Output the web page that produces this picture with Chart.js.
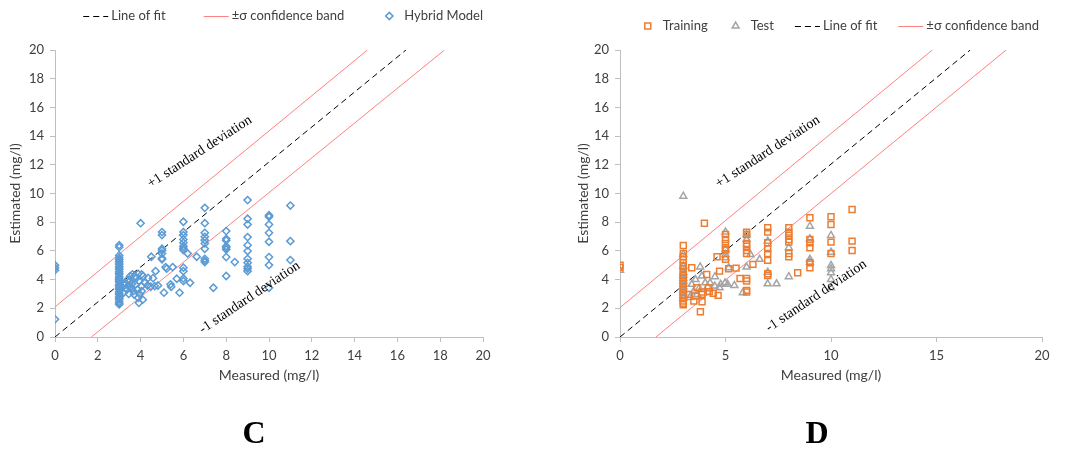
<!DOCTYPE html>
<html>
<head>
<meta charset="utf-8">
<title>Measured vs Estimated</title>
<script src="https://cdn.jsdelivr.net/npm/chart.js@4.4.0/dist/chart.umd.min.js"></script>
<style>
    html, body { margin: 0; padding: 0; background: #fff; }
    body { width: 1067px; height: 452px; position: relative; overflow: hidden; }
    .panel { position: absolute; top: 0; }
    #panelC { left: 0; }
    #panelD { left: 568px; }
</style>
</head>
<body>
<div class="panel" id="panelC"><canvas id="chartC" width="508" height="452"></canvas></div>
<div class="panel" id="panelD"><canvas id="chartD" width="498" height="452"></canvas></div>
<script>
// ======= Datos =======
// [medido, estimado]
const hybridModel = [
    [0, 5.0], [0, 4.83], [0, 4.66], [0, 1.23],
    [3, 6.4], [3, 6.26], [3, 5.68], [3, 5.52], [3, 5.4], [3, 5.28], [3, 5.15], [3, 5.05], [3, 4.89],
    [3, 4.8], [3, 4.7], [3, 4.55], [3, 4.45], [3, 4.36], [3, 4.19], [3, 4.1], [3, 4.0], [3, 3.9],
    [3, 3.84], [3, 3.66], [3, 3.6], [3, 3.5], [3, 3.4], [3, 3.31], [3, 3.15], [3, 3.05], [3, 2.96],
    [3, 2.8], [3, 2.7], [3, 2.61], [3, 2.45], [3, 2.35], [3, 2.27],
    [3.28, 3.78], [3.4, 4.0], [3.51, 4.24], [3.62, 4.36], [3.74, 4.24], [3.89, 4.4], [4.05, 4.36],
    [4.12, 4.24], [3.43, 3.55], [3.58, 3.43], [3.76, 3.66], [3.92, 3.9], [4.05, 3.55], [4.2, 3.78],
    [4.32, 3.59], [4.47, 3.5], [4.66, 3.55], [4.81, 3.59], [4.35, 4.12], [4.58, 4.1], [4.7, 4.59],
    [3.7, 2.96], [3.89, 2.73], [3.92, 2.38], [3.66, 3.2], [4.05, 3.2], [3.2, 3.08], [3.36, 3.31],
    [3.5, 3.9], [3.8, 4.1], [3.3, 3.4], [3.6, 3.7], [3.85, 3.3], [4.1, 2.6], [3.95, 3.0], [3.25, 3.6],
    [3.45, 3.0],
    [4.0, 7.93], [4.5, 5.59],
    [5, 7.31], [5, 7.1], [5, 6.15], [5, 6.03], [5, 5.82], [5, 5.48], [5, 5.41],
    [5.17, 4.87], [5.22, 4.76], [5.5, 4.87], [5.69, 4.06], [5.09, 3.09], [5.4, 3.67], [5.43, 3.5], [5.82, 3.09],
    [6, 8.03], [6, 7.31], [6, 7.1], [6, 6.8], [6, 6.57], [6, 6.33], [6, 6.19], [6, 6.06], [6, 4.83],
    [6, 4.59], [6, 4.08], [6, 3.9],
    [6.2, 5.82], [6.31, 3.78], [6.62, 5.59],
    [7, 9.0], [7, 7.93], [7, 7.26], [7, 6.98], [7, 6.75], [7, 6.52], [7, 6.15], [7, 5.45], [7, 5.31], [7, 5.22],
    [7.4, 3.43],
    [8, 7.38], [8, 6.84], [8, 6.73], [8, 6.33], [8, 6.22], [8, 6.1], [8, 5.57], [8, 4.25],
    [8.4, 5.22],
    [9, 9.54], [9, 8.24], [9, 7.84], [9, 6.96], [9, 6.4], [9, 5.99], [9, 5.45], [9, 5.17], [9, 4.9], [9, 4.76], [9, 4.59],
    [10, 8.49], [10, 8.38], [10, 7.84], [10, 7.26], [10, 6.64], [10, 5.57], [10, 5.01], [10, 3.43],
    [11, 9.16], [11, 6.68], [11, 5.36]
];

const training = [
    [0, 5.0], [0, 4.85],
    [3, 6.38], [3, 5.82], [3, 5.6], [3, 5.4], [3, 5.17], [3, 4.95], [3, 4.75], [3, 4.5], [3, 4.3],
    [3, 4.1], [3, 3.9], [3, 3.7], [3, 3.5], [3, 3.3], [3, 3.1], [3, 2.9], [3, 2.7], [3, 2.5], [3, 2.35], [3, 2.25],
    [3.4, 4.83], [4.0, 7.93], [4.6, 5.59], [4.72, 4.59], [3.81, 1.76], [3.89, 2.46], [3.5, 2.5],
    [4.11, 4.36], [4.19, 3.43], [4.42, 3.04], [4.65, 2.9], [3.58, 2.85], [3.89, 2.97], [3.26, 2.97],
    [3.65, 3.43], [3.88, 3.13], [4.23, 3.16],
    [5, 7.14], [5, 6.8], [5, 6.52], [5, 6.22], [5, 6.06], [5, 5.41],
    [5.15, 4.76], [5.5, 4.8], [5.69, 4.08],
    [6, 7.31], [6, 7.14], [6, 6.52], [6, 6.33], [6, 6.03], [6, 5.82], [6, 4.08], [6, 3.9], [6, 3.25], [6, 3.13],
    [6.3, 5.06],
    [7, 7.61], [7, 7.31], [7, 6.57], [7, 6.15], [7, 5.82], [7, 5.34], [7, 4.41], [7, 4.29],
    [8, 7.61], [8, 7.31], [8, 7.08], [8, 6.8], [8, 6.61], [8, 5.82], [8, 5.59],
    [8.42, 4.48],
    [9, 8.31], [9, 6.8], [9, 6.57], [9, 6.22], [9, 5.17], [9, 4.83],
    [10, 8.38], [10, 7.84], [10, 6.61], [10, 5.82],
    [11, 8.89], [11, 6.68], [11, 6.03]
];

const test = [
    [0, 4.66],
    [3, 9.81], [3, 5.75], [3, 4.94], [3, 4.5], [3, 4.3], [3, 4.1], [3, 3.9], [3, 3.7], [3, 3.5],
    [3, 3.3], [3, 3.1], [3, 2.9], [3, 2.7],
    [3.4, 3.67], [3.58, 4.0], [3.66, 2.97], [3.8, 4.88], [3.88, 4.25], [4.04, 3.78], [4.27, 3.78],
    [4.5, 4.2], [4.49, 3.55], [4.72, 3.43], [4.77, 3.67], [3.5, 3.2], [3.75, 3.4], [4.15, 3.5], [3.3, 2.75],
    [5, 7.31], [5, 6.1], [5, 5.75], [5, 5.52],
    [5.15, 4.83], [4.98, 3.78], [5.1, 3.67], [5.42, 3.59], [5.82, 3.09],
    [6, 7.14], [6, 6.8], [6, 4.87], [6.18, 5.75], [6.62, 5.41],
    [7, 6.68], [7, 4.52], [7, 3.71], [7.42, 3.71],
    [8, 6.22], [8, 4.2],
    [9, 7.72], [9, 6.84], [9, 5.41], [9, 5.22],
    [10, 7.08], [10, 5.91], [10, 4.99], [10, 4.76], [10, 4.48], [10, 4.01], [10, 3.43]
];

// recta de ajuste y banda ±σ (extremos en unidades de los ejes)
const fitLineC = [[0, 0], [16.4, 20]];
const upperBandC = [[0, 2.1], [14.6, 20]];
const lowerBandC = [[1.7, 0], [18.2, 20]];

const fitLineD = [[0, 0], [16.6, 20]];
const upperBandD = [[0, 2.05], [14.8, 20]];
const lowerBandD = [[1.7, 0], [18.3, 20]];

const xStepC = 2;
const xStepD = 5;
const yStep = 2;

// ======= Estilos =======
const FONT = 'Lato, "Open Sans", sans-serif';
const SERIF = '"Liberation Serif", "DejaVu Serif", serif';
const TEXT = '#404040';
const AXIS = '#bfbfbf';
const BLUE = '#5b9bd5';
const ORANGE = '#ed7d31';
const GRAY = '#a5a5a5';
const RED = '#ff8080';

const toPoints = arr => arr.map(p => ({ x: p[0], y: p[1] }));

function lineSet(label, pts, color, dash, hide) {
    return {
        label: label,
        data: toPoints(pts),
        showLine: true,
        borderColor: color,
        borderWidth: 1,
        borderDash: dash,
        pointRadius: 0,
        hideInLegend: !!hide,
        order: 2
    };
}

function markerSet(label, pts, color, style, radius) {
    return {
        label: label,
        data: toPoints(pts),
        showLine: false,
        pointStyle: style,
        pointRadius: radius,
        pointBorderColor: color,
        pointBackgroundColor: 'rgba(255,255,255,0)',
        pointBorderWidth: 1.5,
        borderColor: color,
        order: 1
    };
}

function ejes(stepX, yWidth) {
    return {
        x: {
            type: 'linear', min: 0, max: 20,
            ticks: { stepSize: stepX, color: TEXT, font: { family: FONT, size: 13 }, padding: 6, maxRotation: 0 },
            grid: { display: true, drawOnChartArea: false, drawTicks: true, tickLength: 5, color: AXIS },
            border: { display: true, color: AXIS },
            title: { display: true, text: 'Measured (mg/l)', color: TEXT, font: { family: FONT, size: 14 }, padding: { top: 0, bottom: 10 } },
            afterFit(s) { s.height = 56.6; }
        },
        y: {
            type: 'linear', min: 0, max: 20,
            ticks: { stepSize: yStep, color: TEXT, font: { family: FONT, size: 13 }, padding: 6 },
            grid: { display: true, drawOnChartArea: false, drawTicks: true, tickLength: 5, color: AXIS },
            border: { display: true, color: AXIS },
            title: { display: true, text: 'Estimated (mg/l)', color: TEXT, font: { family: FONT, size: 14 }, padding: { top: 7, bottom: 0 } },
            afterFit(s) { s.width = yWidth; }
        }
    };
}

// ======= Leyenda propia (marcadores y líneas como en Excel) =======
function dibujarMarcador(ctx, ds, cx, cy) {
    ctx.strokeStyle = ds.pointBorderColor;
    ctx.lineWidth = 1.5;
    ctx.beginPath();
    const r = ds.pointRadius;
    if (ds.pointStyle === 'rectRot') {
        ctx.moveTo(cx - r, cy); ctx.lineTo(cx, cy - r); ctx.lineTo(cx + r, cy); ctx.lineTo(cx, cy + r);
    } else if (ds.pointStyle === 'rect') {
        const h = r * Math.SQRT1_2;
        ctx.rect(cx - h, cy - h, 2 * h, 2 * h);
    } else if (ds.pointStyle === 'triangle') {
        for (let i = 0; i < 3; i++) {
            const a = i * 2 * Math.PI / 3;
            const px = cx + Math.sin(a) * r, py = cy - Math.cos(a) * r;
            if (i === 0) ctx.moveTo(px, py); else ctx.lineTo(px, py);
        }
    }
    ctx.closePath();
    ctx.stroke();
}

const leyendaPlugin = {
    id: 'leyenda',
    afterDraw(chart, args, opts) {
        const ctx = chart.ctx;
        ctx.save();
        ctx.font = opts.size + 'px ' + FONT;
        ctx.textBaseline = 'middle';
        ctx.textAlign = 'left';
        const items = chart.data.datasets.filter(d => !d.hideInLegend);
        const widths = items.map(d => (d.showLine ? 28 : 22) + ctx.measureText(d.label).width);
        const total = widths.reduce((a, b) => a + b, 0) + opts.gap * (items.length - 1);
        let x = chart.chartArea.right - opts.inset - total;
        const y = opts.y;
        items.forEach((d, i) => {
            if (d.showLine) {
                ctx.strokeStyle = d.borderColor;
                ctx.lineWidth = 1;
                ctx.setLineDash(d.borderDash || []);
                ctx.beginPath();
                ctx.moveTo(x, y + 0.5);
                ctx.lineTo(x + 25, y + 0.5);
                ctx.stroke();
                ctx.setLineDash([]);
                ctx.fillStyle = TEXT;
                ctx.fillText(d.label, x + 28, y);
            } else {
                dibujarMarcador(ctx, d, x + 7, y);
                ctx.fillStyle = TEXT;
                ctx.fillText(d.label, x + 22, y);
            }
            x += widths[i] + opts.gap;
        });
        ctx.restore();
    }
};

// ======= Textos "±1 standard deviation" sobre la banda =======
const notasPlugin = {
    id: 'notas',
    afterDatasetsDraw(chart, args, opts) {
        const ctx = chart.ctx;
        const sx = chart.scales.x, sy = chart.scales.y;
        ctx.save();
        ctx.font = '14px ' + SERIF;
        ctx.fillStyle = '#000';
        ctx.textAlign = 'center';
        ctx.textBaseline = 'middle';
        opts.items.forEach(n => {
            ctx.save();
            ctx.translate(sx.getPixelForValue(n.x), sy.getPixelForValue(n.y));
            ctx.rotate(n.angle * Math.PI / 180);
            ctx.fillText(n.text, 0, 0);
            ctx.restore();
        });
        ctx.restore();
    }
};

// ======= Letra del panel (C / D) bajo el gráfico =======
const letraPlugin = {
    id: 'letra',
    afterDraw(chart, args, opts) {
        const ctx = chart.ctx;
        ctx.save();
        ctx.font = 'bold 32px ' + SERIF;
        ctx.fillStyle = '#000';
        ctx.textAlign = 'center';
        ctx.textBaseline = 'middle';
        ctx.fillText(opts.text, chart.width / 2, 435);
        ctx.restore();
    }
};

function crearGrafico(id, datasets, letra, stepX, yWidth, padRight, legendOpts, notas) {
    return new Chart(document.getElementById(id), {
        type: 'scatter',
        data: { datasets: datasets },
        options: {
            responsive: false,
            animation: false,
            layout: { padding: { top: 50, right: padRight, bottom: 58.4, left: 0 } },
            scales: ejes(stepX, yWidth),
            plugins: {
                legend: { display: false },
                tooltip: { enabled: false },
                leyenda: legendOpts,
                notas: { items: notas },
                letra: { text: letra }
            }
        },
        plugins: [leyendaPlugin, notasPlugin, letraPlugin]
    });
}

document.addEventListener("DOMContentLoaded", function () {
    // ======= Panel C =======
    crearGrafico('chartC', [
        lineSet('Line of fit', fitLineC, '#000', [6, 4]),
        lineSet('±σ confidence band', upperBandC, RED, []),
        lineSet('±σ confidence band', lowerBandC, RED, [], true),
        markerSet('Hybrid Model', hybridModel, BLUE, 'rectRot', 3.6)
    ], 'C', xStepC, 55, 25, { y: 16, size: 13, gap: 38, inset: 0 }, [
        { text: '+1 standard deviation', x: 6.76, y: 12.9, angle: -33 },
        { text: '-1 standard deviation', x: 9.1, y: 2.75, angle: -34 }
    ]);

    // ======= Panel D =======
    crearGrafico('chartD', [
        markerSet('Training', training, ORANGE, 'rect', 4.2),
        markerSet('Test', test, GRAY, 'triangle', 4),
        lineSet('Line of fit', fitLineD, '#000', [6, 4]),
        lineSet('±σ confidence band', upperBandD, RED, []),
        lineSet('±σ confidence band', lowerBandD, RED, [], true)
    ], 'D', xStepD, 52, 24, { y: 26, size: 13, gap: 21, inset: 3 }, [
        { text: '+1 standard deviation', x: 7.0, y: 12.9, angle: -33 },
        { text: '-1 standard deviation', x: 9.3, y: 2.86, angle: -34 }
    ]);
});
</script>
</body>
</html>
